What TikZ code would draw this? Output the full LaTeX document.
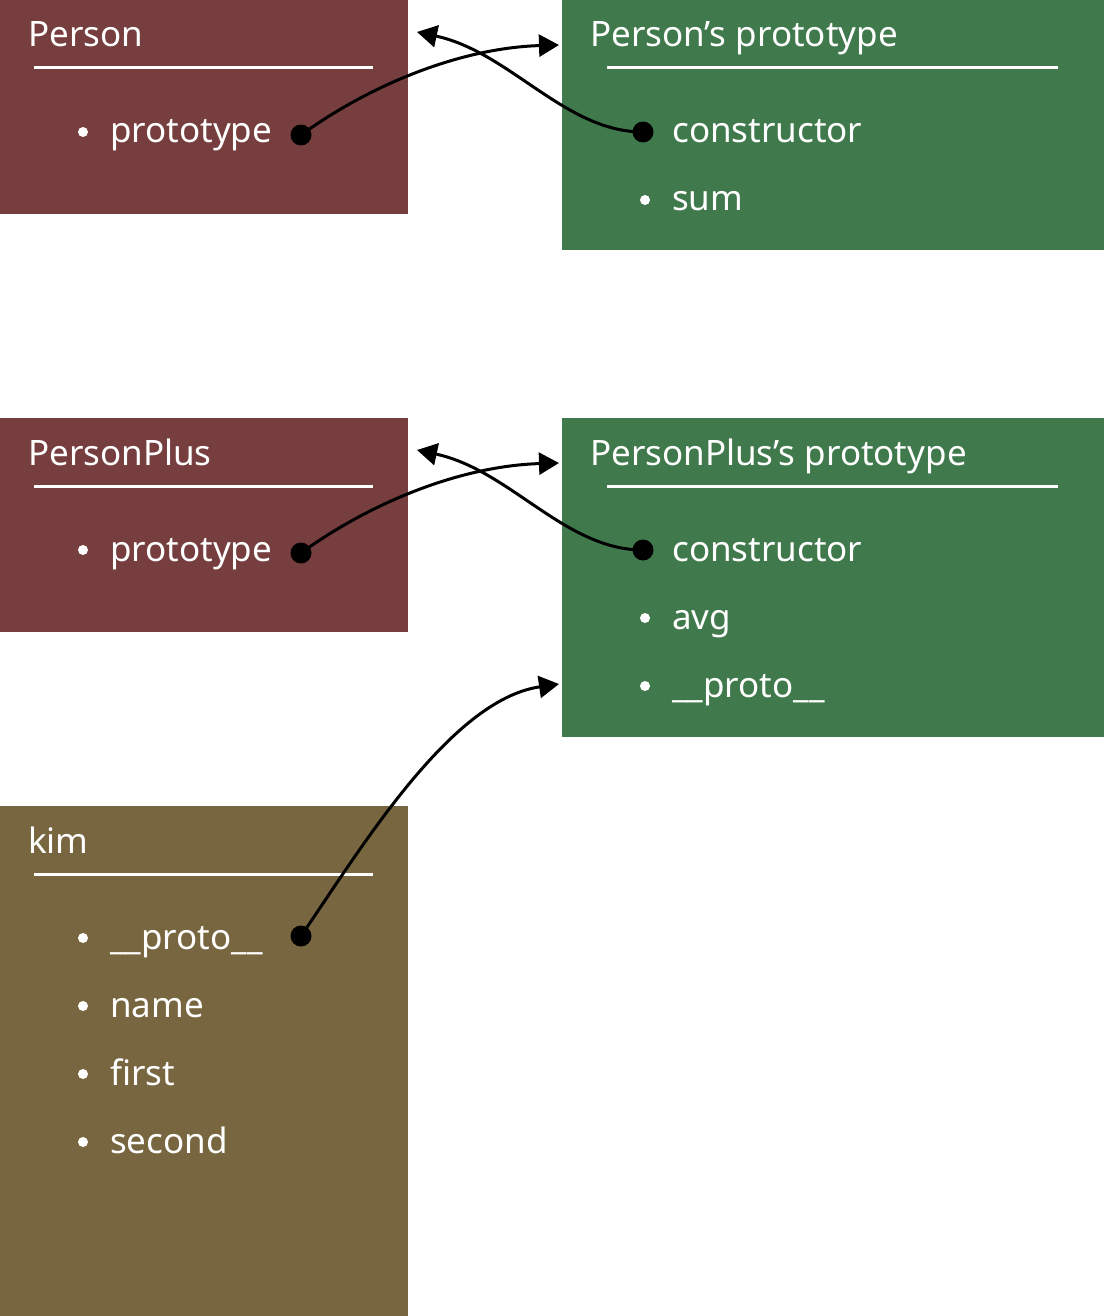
\documentclass[tikz,border=0pt]{standalone}
\usepackage{fontspec}
\setmainfont{Noto Sans}
\usetikzlibrary{arrows.meta}
\definecolor{cred}{RGB}{118,62,62}
\definecolor{cgreen}{RGB}{64,122,76}
\definecolor{colive}{RGB}{120,102,64}
\tikzset{
  box/.style={draw=none, inner sep=0pt, anchor=north west},
  lbl/.style={text=white, font=\fontsize{35}{40}\selectfont, inner sep=0pt, anchor=base west},
  rule/.style={draw=white, line width=3pt},
  bul/.style={circle, fill=white, inner sep=0pt, minimum size=10pt},
  dotn/.style={circle, fill=black, inner sep=0pt, minimum size=21pt},
  link/.style={draw=black, line width=3pt, -{Triangle[length=20pt,width=22pt]}},
}
\begin{document}
\begin{tikzpicture}[x=1pt,y=-1pt]
\useasboundingbox (0,0) rectangle (1104,1316);
% boxes
\node[box, fill=cred, minimum width=408pt, minimum height=214pt] (person) at (0,0) {};
\node[box, fill=cgreen, minimum width=542pt, minimum height=250pt] (pproto) at (562,0) {};
\node[box, fill=cred, minimum width=408pt, minimum height=214pt] (pplus) at (0,418) {};
\node[box, fill=cgreen, minimum width=542pt, minimum height=319pt] (ppproto) at (562,418) {};
\node[box, fill=colive, minimum width=408pt, minimum height=510pt] (kim) at (0,806) {};
% Person
\node[lbl] (t1) at (28,47) {Person};
\draw[rule] (34,68) -- (373,68);
\node[bul] (b11) at (83,132) {};
\node[lbl] (i11) at (110,143) {prototype};
\node[dotn] (d1) at (301,135) {};
% Person's prototype
\node[lbl] (t2) at (590,47) {Person’s prototype};
\draw[rule] (607,68) -- (1058,68);
\node[dotn] (d2) at (643,132) {};
\node[lbl] (i21) at (672,143) {constructor};
\node[bul] (b22) at (645,200) {};
\node[lbl] (i22) at (672,211) {sum};
% PersonPlus
\node[lbl] (t3) at (28,465) {PersonPlus};
\draw[rule] (34,486) -- (373,486);
\node[bul] (b31) at (83,550) {};
\node[lbl] (i31) at (110,561) {prototype};
\node[dotn] (d3) at (301,553) {};
% PersonPlus's prototype
\node[lbl] (t4) at (590,465) {PersonPlus’s prototype};
\draw[rule] (607,486) -- (1058,486);
\node[dotn] (d4) at (643,550) {};
\node[lbl] (i41) at (672,561) {constructor};
\node[bul] (b42) at (645,618) {};
\node[lbl] (i42) at (672,629) {avg};
\node[bul] (b43) at (645,686) {};
\node[lbl] (i43) at (672,697) {\_\_proto\_\_};
% kim
\node[lbl] (t5) at (28,853) {kim};
\draw[rule] (34,874) -- (373,874);
\node[bul] (b51) at (83,938) {};
\node[lbl] (i51) at (110,949) {\_\_proto\_\_};
\node[dotn] (d5) at (301,936) {};
\node[bul] (b52) at (83,1006) {};
\node[lbl] (i52) at (110,1017) {name};
\node[bul] (b53) at (83,1074) {};
\node[lbl] (i53) at (110,1085) {first};
\node[bul] (b54) at (83,1142) {};
\node[lbl] (i54) at (110,1153) {second};
% arrow targets
\coordinate (a1) at (559,45);
\coordinate (a2) at (417,32);
\coordinate (a3) at (559,463);
\coordinate (a4) at (417,450);
\coordinate (a5) at (559,684);
% connectors
\draw[link] (d1.center) .. controls (370,85) and (460,48) .. (a1);
\draw[link] (d2.center) .. controls (565,132) and (510,52) .. (a2);
\draw[link] (d3.center) .. controls (370,503) and (460,466) .. (a3);
\draw[link] (d4.center) .. controls (565,550) and (510,470) .. (a4);
\draw[link] (d5.center) .. controls (360,850) and (450,700) .. (a5);
\end{tikzpicture}
\end{document}
